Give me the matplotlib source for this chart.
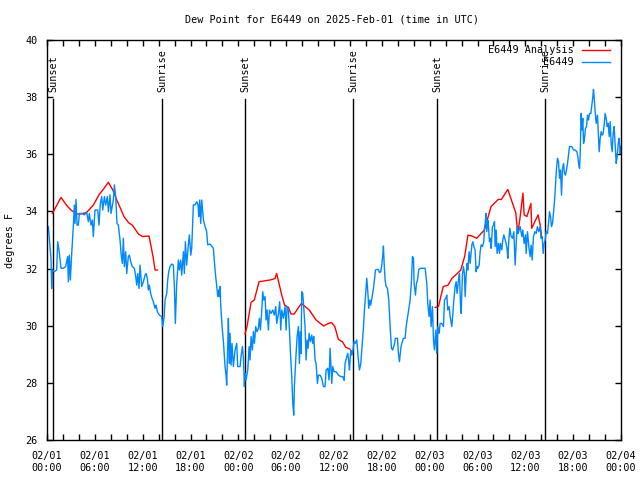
import datetime as dt
import matplotlib
matplotlib.use("Agg")
from matplotlib import pyplot as plt
from matplotlib import dates as mdates

START = dt.datetime(2025, 2, 1, 0, 0)

# hours since 02/01 00:00 UTC
obs_hours = [
    0.0, 0.17, 0.38, 0.5, 0.59, 0.67, 0.92, 1.21, 1.34, 1.51, 1.76, 2.05, 2.34, 2.59, 2.68, 2.8, 2.93,
    3.1, 3.3, 3.43, 3.51, 3.64, 3.77, 3.93, 4.06, 4.35, 4.68, 4.98, 5.19, 5.31, 5.52, 5.69, 5.81,
    6.02, 6.36, 6.52, 6.69, 6.86, 6.99, 7.2, 7.36, 7.57, 7.7, 7.9, 8.03, 8.32, 8.45, 8.62, 8.78,
    8.95, 9.16, 9.29, 9.45, 9.58, 9.7, 9.87, 10.0, 10.2, 10.33, 10.5, 10.7, 10.96, 11.13, 11.25,
    11.38, 11.54,
    11.67, 11.88, 12.09, 12.3, 12.42, 12.59, 12.71, 12.84, 13.0, 13.17, 13.34, 13.55, 13.68, 13.84,
    14.1, 14.39, 14.51, 14.68, 14.81, 15.02, 15.14, 15.27, 15.43, 15.64, 15.85, 15.98, 16.1, 16.27,
    16.48, 16.6, 16.77, 16.9, 17.11, 17.23, 17.36, 17.52, 17.73, 17.86, 18.03, 18.15, 18.28, 18.36,
    18.57, 18.78, 18.95, 19.03, 19.16, 19.28, 19.41, 19.62, 19.83, 20.03, 20.16, 20.45, 20.87, 21.08,
    21.29, 21.42, 21.54, 21.62, 21.71, 21.79, 21.96, 22.13, 22.33, 22.46, 22.54, 22.67, 22.75, 22.88,
    22.96, 23.09, 23.21, 23.38,
    23.59, 23.8, 23.92, 24.22, 24.34, 24.51, 24.64, 24.76, 24.84, 24.97, 25.18, 25.35, 25.47, 25.6,
    25.76, 25.89, 26.02, 26.18, 26.35, 26.52, 26.64, 26.77, 26.94, 27.06, 27.19, 27.35, 27.48, 27.6,
    27.77, 27.9, 28.11, 28.32, 28.52, 28.69, 28.82, 29.03, 29.19, 29.32, 29.45, 29.65, 29.86, 29.99,
    30.11, 30.28, 30.41, 30.53, 30.7, 30.83, 30.95, 31.03, 31.2, 31.37, 31.54, 31.66, 31.79, 31.87,
    31.95, 32.08, 32.21, 32.37, 32.5, 32.62, 32.75, 32.88, 33.04, 33.21, 33.34, 33.46, 33.63, 33.75,
    33.92, 34.05, 34.25, 34.46, 34.67, 34.88, 35.01, 35.22, 35.38,
    35.51, 35.72, 35.84, 36.01, 36.26, 36.56, 36.85, 37.1, 37.27, 37.39, 37.6, 37.73, 37.85, 37.94,
    38.1, 38.23, 38.35, 38.52, 38.65, 38.86, 39.02, 39.19, 39.36, 39.53, 39.69, 39.82, 39.94, 40.11,
    40.24, 40.36, 40.49, 40.61, 40.78, 40.95, 41.07, 41.2, 41.37, 41.57, 41.7, 41.87, 41.99, 42.12,
    42.2, 42.29, 42.41, 42.54, 42.7, 42.87, 43.04, 43.21, 43.37, 43.54, 43.71, 43.96, 44.08, 44.21,
    44.38, 44.5, 44.71, 44.92, 45.05, 45.21, 45.38, 45.55, 45.71, 45.84, 45.97, 46.05, 46.22, 46.34,
    46.47, 46.64, 46.89, 47.22,
    47.43, 47.64, 47.76, 47.93, 48.06, 48.18, 48.35, 48.48, 48.6, 48.77, 48.89, 49.02, 49.19, 49.31,
    49.52, 49.73, 49.86, 50.02, 50.15, 50.27, 50.44, 50.57, 50.78, 50.9, 51.03, 51.19, 51.32, 51.44,
    51.61, 51.74, 51.86, 51.95, 52.11, 52.24, 52.36, 52.45, 52.57, 52.7, 52.78, 52.95, 53.08, 53.29,
    53.41, 53.54, 53.7, 53.83, 53.91, 54.04, 54.21, 54.33, 54.46, 54.62, 54.79, 54.87, 54.96, 55.08,
    55.17, 55.29, 55.38, 55.5, 55.63, 55.71, 55.88, 56.0, 56.13, 56.21, 56.34, 56.46, 56.63, 56.76,
    56.88, 57.05, 57.17, 57.3, 57.47, 57.59, 57.72, 57.8, 57.93, 58.05, 58.22, 58.39, 58.56, 58.72,
    58.85, 58.97, 59.1, 59.22,
    59.35, 59.56, 59.68, 59.85, 60.02, 60.1, 60.27, 60.44, 60.6, 60.73, 60.86, 61.02, 61.19, 61.36,
    61.52, 61.69, 61.86, 61.98, 62.11, 62.24, 62.36, 62.49, 62.61, 62.78, 62.95, 63.03, 63.16, 63.28,
    63.41, 63.53, 63.66, 63.78, 63.91, 64.03, 64.16, 64.29, 64.41, 64.54, 64.66, 64.79, 64.91, 65.04,
    65.16, 65.29, 65.41, 65.54, 65.83, 66.04, 66.25, 66.46, 66.59, 66.71, 66.8, 66.88, 67.0, 67.09,
    67.21, 67.3, 67.42, 67.55, 67.67, 67.8, 67.92, 68.05, 68.22, 68.34, 68.47, 68.55, 68.64, 68.76,
    68.89, 69.05, 69.14, 69.26, 69.39, 69.51, 69.64, 69.76, 69.89, 70.01, 70.14, 70.27, 70.39, 70.52,
    70.64, 70.77, 70.89, 71.02, 71.14, 71.27, 71.4, 71.52, 71.65, 71.77, 71.9, 72.0,
]
obs_dewpt = [
    33.5, 33.47, 32.77, 32.36, 31.3, 31.95, 31.89, 31.95, 32.94, 32.65, 32.01, 32.01, 32.07, 32.42, 31.54, 32.47, 31.6,
    32.53, 33.47, 34.22, 33.58, 34.42, 33.52, 33.52, 33.93, 33.93, 33.88, 33.96, 33.64, 33.93, 33.52, 33.7, 33.12,
    34.05, 34.05, 33.52, 34.28, 34.52, 34.05, 34.52, 34.22, 34.52, 33.99, 34.58, 33.93, 34.4, 34.93, 34.52, 33.58,
    33.52, 33.0, 32.53, 32.18, 33.06, 32.07, 32.59, 31.83, 32.42, 32.47, 32.24, 32.07, 32.01, 31.72, 31.42,
    31.83, 31.3,
    32.12, 31.37, 31.54, 31.77, 31.83, 31.66, 31.25, 31.42, 31.13, 30.96, 30.84, 30.61, 30.72, 30.49,
    30.37, 30.32, 29.97, 30.26, 30.9, 31.13, 31.6, 31.89, 32.07, 32.16, 32.12, 31.37, 30.08, 31.48,
    32.3, 31.95, 32.3, 31.77, 32.59, 31.83, 32.94, 32.12, 32.83, 33.18, 32.47, 32.71, 33.7, 34.23,
    34.23, 34.34, 34.23, 33.82, 34.4, 33.58, 34.4, 33.7, 33.47, 33.29, 32.83, 32.86, 32.71, 31.95,
    31.37, 31.02, 31.25, 31.02, 31.37, 30.72, 29.97, 29.44, 28.57, 28.27, 27.92, 29.27, 30.26, 28.68,
    29.73, 28.62, 29.38, 28.57,
    29.15, 29.38, 28.57, 28.57, 28.92, 29.27, 28.86, 27.87, 28.33, 28.1, 28.45, 29.27, 28.8, 29.62,
    29.15, 29.79, 29.38, 29.97, 29.79, 29.91, 30.26, 29.85, 30.55, 31.19, 30.9, 31.02, 30.2, 30.55,
    29.85, 30.55, 30.43, 30.55, 30.37, 30.67, 30.08, 30.43, 30.84, 29.85, 30.55, 30.26, 30.67, 29.85,
    30.67, 30.55, 29.85, 29.09, 28.22, 27.28, 26.87, 27.87, 28.8, 29.62, 29.97, 28.68, 29.79, 29.03,
    31.19, 31.13, 30.61, 29.97, 28.8, 29.5, 29.21, 29.73, 29.44, 29.67, 29.38, 29.62, 28.8, 28.68,
    27.98, 28.27, 28.27, 28.16, 27.87, 27.87, 28.45, 28.51, 28.1,
    29.21, 27.98, 28.57, 28.39, 28.39, 28.27, 28.22, 28.22, 28.08, 28.68, 28.92, 29.03, 28.74, 28.45,
    29.15, 28.97, 29.09, 29.44, 29.38, 29.5, 28.92, 28.45, 28.68, 29.32, 29.91, 30.55, 31.02, 31.66,
    31.19, 30.61, 30.9, 30.72, 31.02, 31.31, 31.6, 31.95, 31.97, 31.97, 31.86, 31.89, 32.12, 32.47,
    32.79, 32.18, 31.6, 31.37, 31.31, 30.9, 29.97, 29.21, 29.15, 29.32, 29.56, 29.56, 29.03, 28.74,
    29.21, 29.38, 29.56, 29.56, 29.97, 30.26, 30.55, 30.9, 31.54, 32.42, 32.36, 31.48, 31.07, 31.48,
    31.6, 31.97, 32.01, 32.01,
    32.01, 31.48, 30.78, 30.32, 30.9, 29.97, 30.67, 29.5, 29.15, 29.85, 29.03, 29.97, 29.73, 30.08,
    30.08, 29.97, 30.9, 30.96, 31.07, 30.55, 30.67, 30.32, 29.97, 30.38, 30.9, 31.37, 31.54, 31.13,
    31.6, 31.83, 30.78, 30.43, 31.77, 32.07, 31.83, 31.02, 31.72, 32.18, 31.95, 32.59, 32.18, 32.83,
    32.94, 32.77, 32.65, 31.89, 32.07, 32.01, 32.12, 32.59, 32.83, 32.77, 32.94, 33.41, 33.58, 33.93,
    33.29, 33.7, 33.47, 32.94, 33.06, 32.71, 33.47, 33.52, 33.64, 32.77, 33.35, 32.53, 32.88, 32.53,
    32.88, 32.65, 33.0, 33.18, 33.0, 32.88, 32.65, 32.36, 33.0, 33.41, 33.12, 33.06, 33.29, 32.12,
    32.88, 33.47, 33.23, 33.35,
    33.47, 33.12, 33.35, 32.88, 33.18, 32.53, 33.29, 32.77, 32.42, 32.82, 32.3, 33.12, 33.29, 33.23,
    33.47, 33.29, 33.47, 33.06, 33.12, 32.53, 32.88, 33.0, 33.29, 33.23, 33.7, 33.99, 33.82, 33.47,
    33.58, 33.93, 34.34, 34.92, 35.51, 35.86, 35.74, 35.16, 35.45, 34.57, 35.51, 35.68, 35.33, 35.27,
    35.45, 35.68, 35.97, 36.27, 36.27, 36.15, 36.15, 36.09, 35.92, 35.62, 35.51, 35.97, 37.43, 36.85,
    37.26, 36.38, 36.56, 36.91, 36.97, 37.37, 37.2, 37.43, 37.43, 37.72, 38.02, 38.27, 37.96, 37.49,
    37.08, 37.37, 36.85, 36.09, 36.56, 36.79, 36.67, 36.73, 37.03, 37.43, 37.26, 36.97, 37.08, 36.62,
    37.14, 36.38, 36.09, 36.73, 36.97, 36.32, 35.68, 35.92, 36.38, 36.56, 36.03, 36.27,
]

# analysis series, one list per evening
ana_hours = [
    [0.67, 1.0, 1.76, 2.5, 3.0, 3.72, 4.27, 4.98, 5.81, 6.56, 7.0, 7.7, 8.25, 8.66, 9.66, 10.25,
     10.7, 11.5, 12.0, 12.8, 13.3, 13.55, 13.84],
    [24.84, 25.1, 25.6, 26.0, 26.6, 27.98, 28.6, 28.8, 29.45, 29.8, 30.3, 30.6, 31.0, 31.9, 32.9,
     33.75, 34.7, 35.3, 35.7, 36.1, 36.55, 37.05, 37.5, 38.0],
    [48.7, 49.1, 49.7, 50.3, 50.8, 51.4, 51.9, 52.4, 52.8, 53.3, 53.9, 54.87, 55.7, 56.6, 57.0,
     57.8, 58.8, 59.05, 59.3, 59.7, 59.85, 60.2, 60.7, 60.8, 61.6, 61.9, 62.05],
]
ana_dewpt = [
    [33.93, 34.1, 34.49, 34.2, 34.05, 33.91, 33.91, 33.97, 34.22, 34.6, 34.75, 35.02, 34.75, 34.46,
     33.82, 33.6, 33.52, 33.2, 33.12, 33.14, 32.42, 31.95, 31.95],
    [29.71, 29.99, 30.82, 30.9, 31.54, 31.6, 31.65, 31.83, 31.07, 30.72, 30.64, 30.41, 30.41, 30.78,
     30.55, 30.2, 29.99, 30.08, 30.11, 29.97, 29.52, 29.44, 29.24, 29.18],
    [30.64, 30.67, 31.37, 31.42, 31.66, 31.81, 31.95, 32.44, 33.17, 33.14, 33.06, 33.35, 34.17,
     34.42, 34.42, 34.77, 33.95, 33.23, 33.7, 34.64, 33.88, 33.82, 34.28, 33.41, 33.88, 33.47, 33.06],
]

sun_hours = [0.79, 14.47, 24.88, 38.43, 48.97, 62.52]
sun_labels = ["Sunset", "Sunrise", "Sunset", "Sunrise", "Sunset", "Sunrise"]


def to_time(hours):
    return [START + dt.timedelta(hours=h) for h in hours]


plt.rcParams["font.family"] = "DejaVu Sans Mono"
plt.rcParams["font.size"] = 7.3

fig = plt.figure(figsize=(6.4, 4.8), dpi=100)
ax = fig.add_axes([47 / 640, 40 / 480, 574 / 640, 400 / 480])

for h, lab in zip(sun_hours, sun_labels):
    t = to_time([h])[0]
    ax.plot([t, t], [26, 37.93], color="black", lw=1.0)
    ax.text(t, 38.18, lab, rotation=90, ha="center", va="bottom")

for hh, vv in zip(ana_hours, ana_dewpt):
    ax.plot(to_time(hh), vv, color="#ff0000", lw=1.0)
ax.plot(to_time(obs_hours), obs_dewpt, color="#0088ff", lw=1.0)

ax.set_xlim(START, START + dt.timedelta(hours=72))
ax.set_ylim(26, 40)
ax.set_yticks(range(26, 41, 2))
ax.xaxis.set_major_locator(mdates.HourLocator(byhour=range(0, 24, 6)))
ax.xaxis.set_minor_locator(mdates.HourLocator(byhour=range(0, 24, 2)))
ax.xaxis.set_major_formatter(mdates.DateFormatter("%m/%d\n%H:%M"))
ax.tick_params(which="both", direction="in", top=True, right=True, length=4, width=1, color="black")
ax.tick_params(axis="y", pad=7)
ax.tick_params(axis="x", pad=8)
for s in ax.spines.values():
    s.set_linewidth(1.0)

ax.set_ylabel("degrees F")
ax.yaxis.set_label_coords(-0.056, 0.5)

fig.text(332 / 640, 1 - 20 / 480, "Dew Point for E6449 on 2025-Feb-01 (time in UTC)",
         ha="center", va="center")

# gnuplot style key: text right aligned, sample after it
key = [("E6449 Analysis", "#ff0000", 0.975), ("E6449", "#0088ff", 0.945)]
for lab, col, y in key:
    ax.text(0.918, y, lab, transform=ax.transAxes, ha="right", va="center")
    ax.plot([0.932, 0.981], [y, y], color=col, lw=1.0, transform=ax.transAxes)

fig.savefig("out.png", dpi=100)
